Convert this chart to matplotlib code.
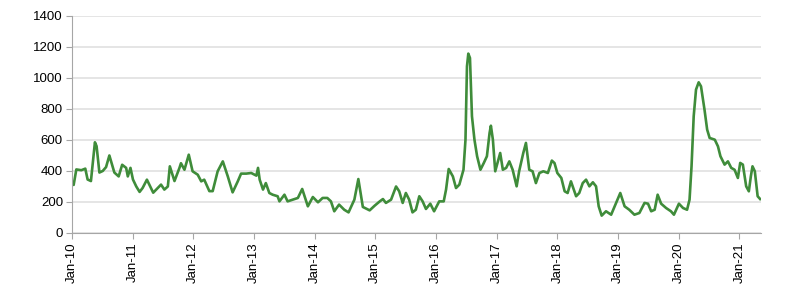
import numpy as np
import pandas as pd
import matplotlib.pyplot as plt
import matplotlib.dates as mdates

plt.rcParams['font.family'] = ['Liberation Sans', 'DejaVu Sans']

# valores (aprox.)
datas = ['2010-01-01', '2010-01-11', '2010-01-27', '2010-02-26', '2010-03-22', '2010-04-05',
         '2010-04-25', '2010-05-19', '2010-05-29', '2010-06-15', '2010-07-05', '2010-07-25',
         '2010-08-14', '2010-09-13', '2010-10-09', '2010-10-30', '2010-11-23', '2010-12-03',
         '2010-12-19', '2011-01-03', '2011-01-23', '2011-02-12', '2011-03-02', '2011-03-28',
         '2011-05-05', '2011-06-01', '2011-06-21', '2011-07-11', '2011-08-01', '2011-08-13',
         '2011-09-10', '2011-10-10', '2011-10-19', '2011-11-09', '2011-12-05', '2011-12-28',
         '2012-01-28', '2012-02-18', '2012-03-07', '2012-04-07', '2012-04-27', '2012-05-27',
         '2012-06-27', '2012-07-27', '2012-08-25', '2012-09-25', '2012-10-15', '2012-11-15',
         '2012-12-15', '2013-01-15', '2013-01-25', '2013-02-04', '2013-02-24', '2013-03-13',
         '2013-04-03', '2013-04-23', '2013-05-23', '2013-06-03', '2013-07-03', '2013-07-22',
         '2013-08-22', '2013-09-22', '2013-10-18', '2013-11-21', '2013-12-21', '2014-01-21',
         '2014-02-18', '2014-03-18', '2014-04-09', '2014-04-29', '2014-05-28', '2014-06-28',
         '2014-07-24', '2014-08-28', '2014-09-21', '2014-10-18', '2014-11-28', '2014-12-28',
         '2015-01-28', '2015-02-16', '2015-03-06', '2015-04-06', '2015-05-06', '2015-05-25',
         '2015-06-15', '2015-07-04', '2015-07-24', '2015-08-13', '2015-09-02', '2015-09-23',
         '2015-10-13', '2015-11-02', '2015-11-28', '2015-12-21', '2016-01-21', '2016-02-17',
         '2016-03-02', '2016-03-18', '2016-04-12', '2016-05-01', '2016-05-21', '2016-06-15',
         '2016-06-27', '2016-07-06', '2016-07-14', '2016-07-24', '2016-08-05', '2016-08-20',
         '2016-09-05', '2016-09-25', '2016-10-15', '2016-11-03', '2016-11-19', '2016-11-27',
         '2016-12-09', '2016-12-23', '2017-01-08', '2017-01-22', '2017-02-07', '2017-02-27',
         '2017-03-18', '2017-04-07', '2017-05-01', '2017-05-16', '2017-06-10', '2017-06-26',
         '2017-07-16', '2017-08-05', '2017-08-25', '2017-09-15', '2017-10-09', '2017-11-05',
         '2017-11-29', '2017-12-15', '2018-01-01', '2018-01-25', '2018-02-14', '2018-03-04',
         '2018-03-24', '2018-04-24', '2018-05-13', '2018-06-03', '2018-06-23', '2018-07-13',
         '2018-08-03', '2018-08-22', '2018-09-07', '2018-09-25', '2018-10-21', '2018-11-21',
         '2018-12-21', '2019-01-15', '2019-02-10', '2019-03-10', '2019-04-10', '2019-05-10',
         '2019-06-10', '2019-07-01', '2019-07-20', '2019-08-10', '2019-08-28', '2019-09-18',
         '2019-10-18', '2019-11-16', '2019-12-04', '2020-01-03', '2020-01-28', '2020-02-21',
         '2020-03-07', '2020-03-19', '2020-04-01', '2020-04-15', '2020-05-01', '2020-05-15',
         '2020-06-05', '2020-06-21', '2020-07-06', '2020-08-06', '2020-08-25', '2020-09-09',
         '2020-10-04', '2020-10-24', '2020-11-13', '2020-12-03', '2020-12-23', '2021-01-06',
         '2021-01-22', '2021-02-11', '2021-02-27', '2021-03-11', '2021-03-21', '2021-04-04',
         '2021-04-21', '2021-05-06']

valores = [323, 310, 410, 405, 415, 345,
           335, 585, 560, 390, 400, 425,
           500, 390, 365, 440, 420, 365,
           420, 345, 300, 265, 290, 344,
           260, 290, 312, 280, 300, 430,
           335, 420, 450, 408, 505, 398,
           376, 333, 344, 270, 270, 398,
           462, 365, 262, 333, 383, 383,
           387, 370, 420, 344, 280, 322,
           258, 247, 237, 204, 247, 204,
           215, 226, 284, 172, 232, 198,
           226, 226, 204, 140, 183, 150,
           133, 215, 348, 168, 146, 176,
           204, 219, 194, 215, 300, 269,
           194, 258, 215, 133, 150, 237,
           204, 155, 189, 140, 204, 204,
           280, 413, 365, 290, 312, 408,
           602, 1075, 1157, 1129, 753, 602,
           495, 408, 451, 495, 645, 692,
           602, 398, 462, 516, 408, 420,
           462, 408, 301, 398, 516, 581,
           408, 398, 322, 387, 398, 387,
           467, 451, 387, 355, 269, 258,
           333, 237, 258, 322, 344, 301,
           327, 301, 172, 112, 140, 118,
           194, 258, 172, 150, 118, 129,
           194, 189, 140, 150, 247, 189,
           161, 140, 118, 189, 161, 150,
           215, 430, 753, 925, 972, 946,
           796, 667, 613, 602, 559, 495,
           441, 462, 420, 408, 355, 452,
           441, 301, 269, 365, 430, 398,
           237, 219]

df = pd.DataFrame({'Data': pd.to_datetime(datas), 'valor': valores})

fig = plt.figure(figsize=(8, 2.85), dpi=100)
ax = fig.add_axes([0.09, 0.1825, 0.861, 0.7615])

ax.plot(df['Data'], df['valor'], color='#3f8c3a', linewidth=1.9)

ax.set_ylim(0, 1400)
ax.set_yticks(np.arange(0, 1401, 200))
ax.set_xlim(pd.Timestamp('2010-01-01'), pd.Timestamp('2021-05-10'))
ax.xaxis.set_major_locator(mdates.YearLocator())
ax.xaxis.set_major_formatter(mdates.DateFormatter('%b-%y'))
plt.setp(ax.get_xticklabels(), rotation=90)

ax.grid(axis='y', color='#e3e3e3', linewidth=1.3)
ax.set_axisbelow(True)
for s in ['top', 'right']:
    ax.spines[s].set_visible(False)
for s in ['left', 'bottom']:
    ax.spines[s].set_color('#a6a6a6')
ax.tick_params(axis='both', colors='#a6a6a6', labelcolor='black', labelsize=9.5, length=4, pad=2.5)

fig.savefig('out.png', dpi=100)
